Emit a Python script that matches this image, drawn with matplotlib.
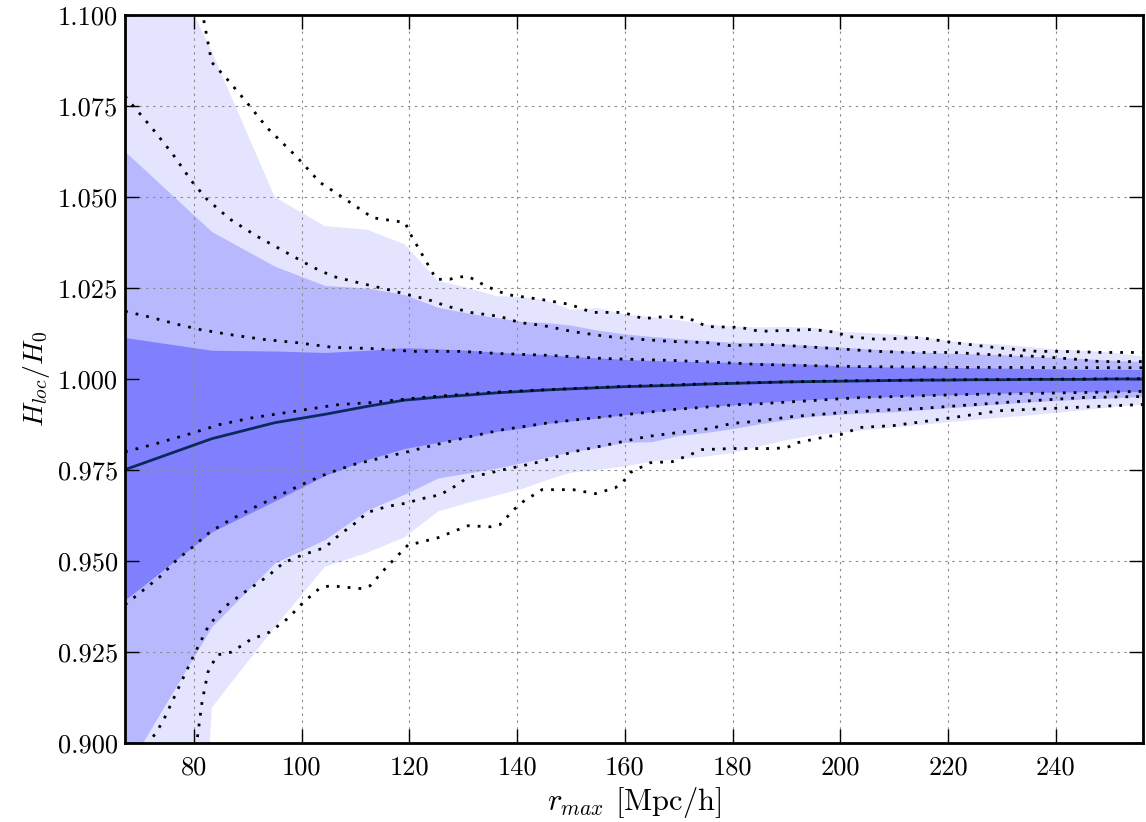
import matplotlib
matplotlib.use("Agg")
import matplotlib.pyplot as plt
from matplotlib.ticker import FormatStrFormatter, MultipleLocator

plt.rcParams['font.family'] = 'serif'
plt.rcParams['font.serif'] = ['cmr10']
plt.rcParams['mathtext.fontset'] = 'cm'
plt.rcParams['axes.unicode_minus'] = False
plt.rcParams['axes.formatter.use_mathtext'] = True

# ---- band grid (r_max in Mpc/h) ----
r_band = [67.2, 83.3, 95.0, 104.3, 112.2, 119.1, 125.3, 130.9, 136.1, 140.9, 145.5,
          150, 155, 160, 165, 170, 175, 180, 185, 190, 195, 200, 205, 210, 215, 220,
          225, 230, 235, 240, 245, 250, 256.2]

outer_hi = [1.140, 1.090, 1.050, 1.042, 1.041, 1.037, 1.027, 1.025, 1.0228, 1.0225, 1.0215,
            1.019, 1.0195, 1.0177, 1.017, 1.0162, 1.015, 1.0144, 1.0142, 1.0143, 1.0141, 1.013,
            1.0126, 1.0122, 1.0116, 1.0104, 1.0098, 1.0095, 1.0088, 1.0081, 1.0078, 1.0073, 1.0062]
middle_hi = [1.0625, 1.0405, 1.031, 1.0257, 1.0250, 1.0232, 1.0197, 1.0181, 1.0169, 1.0158, 1.0155,
             1.0148, 1.0134, 1.0124, 1.0117, 1.0111, 1.0105, 1.0101, 1.0100, 1.0096, 1.0092, 1.0088,
             1.0083, 1.0079, 1.0074, 1.0071, 1.0069, 1.0067, 1.0063, 1.0059, 1.0056, 1.0052, 1.0048]
inner_hi = [1.0114, 1.0079, 1.0077, 1.0073, 1.0079, 1.0086, 1.0083, 1.0079, 1.0074, 1.0070, 1.0067,
            1.0062, 1.0058, 1.0054, 1.0051, 1.0049, 1.0047, 1.0046, 1.0045, 1.0043, 1.0040, 1.0036,
            1.0034, 1.0033, 1.0033, 1.0032, 1.0031, 1.0030, 1.0029, 1.0028, 1.0027, 1.0027, 1.0026]
median = [0.9751, 0.9836, 0.9880, 0.9903, 0.9925, 0.9942, 0.9950, 0.9956, 0.9962, 0.9966, 0.9970,
          0.9973, 0.9976, 0.9979, 0.9981, 0.9983, 0.9986, 0.9988, 0.9990, 0.9992, 0.9993, 0.9994,
          0.9995, 0.9996, 0.9997, 0.9997, 0.9998, 0.9998, 0.9999, 0.9999, 0.9999, 1.0000, 1.0000]
inner_lo = [0.9393, 0.9580, 0.9665, 0.9735, 0.9779, 0.9809, 0.9826, 0.9840, 0.9856, 0.9865, 0.9878,
            0.9885, 0.9893, 0.9902, 0.9910, 0.9917, 0.9924, 0.9929, 0.9935, 0.9940, 0.9944, 0.9947,
            0.9949, 0.9952, 0.9954, 0.9956, 0.9958, 0.9961, 0.9963, 0.9964, 0.9965, 0.9965, 0.9966]
middle_lo = [0.892, 0.932, 0.9495, 0.9559, 0.9640, 0.9684, 0.9728, 0.9742, 0.9755, 0.9770, 0.9785,
             0.9800, 0.9812, 0.9826, 0.9828, 0.9845, 0.9853, 0.9864, 0.9877, 0.9888, 0.9898, 0.9903,
             0.9907, 0.9910, 0.9915, 0.9921, 0.9926, 0.9932, 0.9937, 0.9941, 0.9945, 0.9948, 0.9952]
outer_lo = [0.49, 0.9097, 0.9318, 0.9484, 0.9523, 0.9565, 0.9636, 0.966, 0.968, 0.9698, 0.9722,
            0.9743, 0.9750, 0.9760, 0.9773, 0.9780, 0.9787, 0.9797, 0.9815, 0.9832, 0.9845, 0.9853,
            0.9860, 0.9867, 0.9874, 0.9881, 0.9888, 0.9894, 0.9900, 0.9907, 0.9914, 0.9922, 0.9930]

# ---- dotted curves ----
d1_r = [67.2, 81.7, 83.3, 85.8, 89.8, 93.6, 99.1, 103.4, 106.7, 113.2, 119.2, 120.0, 125.0, 127.5,
        128.8, 130.9, 134.4, 138.1, 144.3, 149.8, 153.9, 159.7, 163.4, 167.8, 171.5, 175.3, 181.4,
        185.0, 195.0, 199.4, 201.3, 206.8, 214.8, 221.0, 228.4, 236.5, 240.8, 248.8, 256.2]
d1_h = [1.21, 1.0995, 1.087, 1.083, 1.076, 1.069, 1.061, 1.054, 1.0508, 1.0443, 1.043, 1.0403,
        1.0274, 1.0274, 1.028, 1.0282, 1.0254, 1.0232, 1.0219, 1.0205, 1.0183, 1.0183, 1.0166,
        1.0172, 1.0169, 1.0144, 1.0142, 1.0131, 1.0136, 1.0128, 1.0117, 1.0109, 1.0114, 1.0100,
        1.0087, 1.0076, 1.0076, 1.0073, 1.0073]

d2_r = [67.2, 72.4, 76.1, 79.6, 82.4, 86.7, 91.7, 95.4, 98.8, 102.1, 105.8, 109.6, 115.9, 119.6,
        123.3, 127.0, 131.3, 136.8, 140.5, 144.8, 150.4, 156.7, 161.0, 169.0, 175.3, 179.5, 187.0,
        198.7, 206.8, 213.0, 221.0, 230.2, 237.0, 244.0, 248.2, 256.2]
d2_h = [1.0777, 1.0686, 1.0617, 1.0543, 1.0494, 1.0439, 1.0392, 1.0362, 1.0334, 1.0307, 1.0282,
        1.0268, 1.0246, 1.0232, 1.0219, 1.0200, 1.0183, 1.0172, 1.0155, 1.0147, 1.0130, 1.0117,
        1.0111, 1.0103, 1.0100, 1.0092, 1.0095, 1.0084, 1.0076, 1.0073, 1.0073, 1.0065, 1.0062,
        1.0054, 1.0048, 1.0048]

d3_r = [67.2, 71.3, 77.0, 81.1, 86.7, 92.8, 99.1, 105.8, 112.7, 120.7, 129.4, 136.8, 146.0,
        156.7, 169.0, 181.4, 185.0, 203.7, 222.2, 256.2]
d3_h = [1.0186, 1.0172, 1.0150, 1.0136, 1.0122, 1.0109, 1.0100, 1.0087, 1.0084, 1.0076, 1.0076,
        1.0070, 1.0065, 1.0056, 1.0051, 1.0043, 1.0040, 1.0034, 1.0032, 1.0031]

d4_r = [67.2, 72.4, 78.7, 84.8, 91.0, 97.2, 103.4, 107.0, 112.7, 122.0, 134.4, 146.0, 160.0,
        180.0, 200.0, 220.0, 256.2]
d4_h = [0.9800, 0.9820, 0.9847, 0.9875, 0.9894, 0.9908, 0.9922, 0.9930, 0.9935, 0.9949, 0.9963,
        0.9971, 0.9980, 0.9989, 0.9995, 0.9998, 1.0001]

d5_r = [67.2, 70.0, 73.7, 76.8, 79.8, 83.0, 86.7, 91.0, 95.4, 100.0, 104.7, 109.6, 115.9, 119.6,
        125.0, 131.3, 137.4, 146.0, 156.7, 169.0, 181.4, 185.0, 203.7, 222.2, 256.2]
d5_h = [0.9380, 0.9413, 0.9457, 0.9503, 0.9539, 0.9580, 0.9613, 0.9646, 0.9677, 0.9710, 0.9740,
        0.9765, 0.9787, 0.9800, 0.9820, 0.9842, 0.9861, 0.9880, 0.9897, 0.9916, 0.9930, 0.9932,
        0.9949, 0.9957, 0.9966]

d6_r = [67.2, 71.8, 74.2, 77.4, 80.2, 82.6, 85.4, 90.0, 93.6, 96.6, 100.2, 104.3, 107.0, 110.3,
        112.1, 115.9, 119.8, 121.6, 125.7, 129.0, 130.7, 134.4, 138.3, 140.5, 144.3, 150.4, 156.0,
        164.1, 171.5, 175.8, 179.9, 183.8, 191.2, 200.5, 209.8, 214.8, 222.2, 232.8, 245.0, 256.2]
d6_h = [0.889, 0.9003, 0.9058, 0.9160, 0.9248, 0.9319, 0.9371, 0.9421, 0.9457, 0.9495, 0.9517,
        0.9537, 0.9572, 0.9608, 0.9633, 0.9650, 0.9660, 0.9669, 0.9682, 0.9710, 0.9729, 0.9740,
        0.9754, 0.9760, 0.9773, 0.9800, 0.9817, 0.9842, 0.9856, 0.9864, 0.9878, 0.9883, 0.9897,
        0.9908, 0.9916, 0.9919, 0.9927, 0.9938, 0.9949, 0.9952]

d7_r = [67.2, 80.5, 81.5, 82.6, 84.3, 87.0, 90.4, 94.1, 97.5, 100.2, 103.4, 105.3, 111.2, 112.7,
        115.8, 118.3, 119.8, 121.6, 125.3, 129.0, 130.9, 135.0, 136.8, 139.6, 141.1, 144.6, 150.4,
        154.5, 158.2, 159.7, 161.0, 164.7, 168.8, 172.1, 174.3, 180.0, 187.0, 190.0, 192.0, 197.5,
        200.0, 203.7, 209.8, 215.4, 222.2, 229.7, 239.0, 246.4, 256.2]
d7_h = [0.75, 0.9000, 0.9113, 0.9195, 0.9242, 0.9250, 0.9283, 0.9305, 0.9343, 0.9385, 0.9426,
        0.9432, 0.9424, 0.9432, 0.9484, 0.9522, 0.9545, 0.9550, 0.9564, 0.9586, 0.9597, 0.9594,
        0.9600, 0.9644, 0.9663, 0.9696, 0.9696, 0.9685, 0.9701, 0.9718, 0.9743, 0.9770, 0.9773,
        0.9792, 0.9806, 0.9809, 0.9809, 0.9811, 0.9825, 0.9842, 0.9847, 0.9867, 0.9872, 0.9883,
        0.9897, 0.9913, 0.9919, 0.9924, 0.9930]

dotted = [(d1_r, d1_h), (d2_r, d2_h), (d3_r, d3_h), (d4_r, d4_h),
          (d5_r, d5_h), (d6_r, d6_h), (d7_r, d7_h)]

fig = plt.figure(figsize=(11.46, 8.22), dpi=100)
ax = fig.add_axes([0.1091, 0.0961, 0.8883, 0.8856])

ax.fill_between(r_band, outer_lo, outer_hi, color='#e4e4ff', lw=0, zorder=1)
ax.fill_between(r_band, middle_lo, middle_hi, color='#b8b8ff', lw=0, zorder=1.1)
ax.fill_between(r_band, inner_lo, inner_hi, color='#8080ff', lw=0, zorder=1.2)
ax.plot(r_band, median, color='#0b2a5b', lw=2.0, zorder=3)

for rr, hh in dotted:
    ax.plot(rr, hh, color='black', lw=2.0, linestyle=(0, (1, 2.9)), zorder=4)

ax.set_xlim(67.2, 256.2)
ax.set_ylim(0.9, 1.1)
ax.xaxis.set_major_locator(MultipleLocator(20))
ax.yaxis.set_major_locator(MultipleLocator(0.025))
ax.yaxis.set_major_formatter(FormatStrFormatter('%.3f'))
ax.xaxis.set_major_formatter(FormatStrFormatter('%d'))

ax.grid(True, color='0.55', linestyle=(0, (2.2, 4)), linewidth=0.8, zorder=2.5)
ax.set_axisbelow(False)
ax.tick_params(direction='in', length=10, width=1, top=True, right=True,
               labelsize=19)
ax.tick_params(axis='y', pad=5)
ax.tick_params(axis='x', pad=9)
for s in ax.spines.values():
    s.set_linewidth(2)
    s.set_zorder(5)

ax.set_xlabel(r'$r_{max}$ [Mpc/h]', fontsize=22, labelpad=4)
ax.set_ylabel(r'$H_{loc}/H_0$', fontsize=20, labelpad=4)

fig.savefig('out.png', dpi=100)
